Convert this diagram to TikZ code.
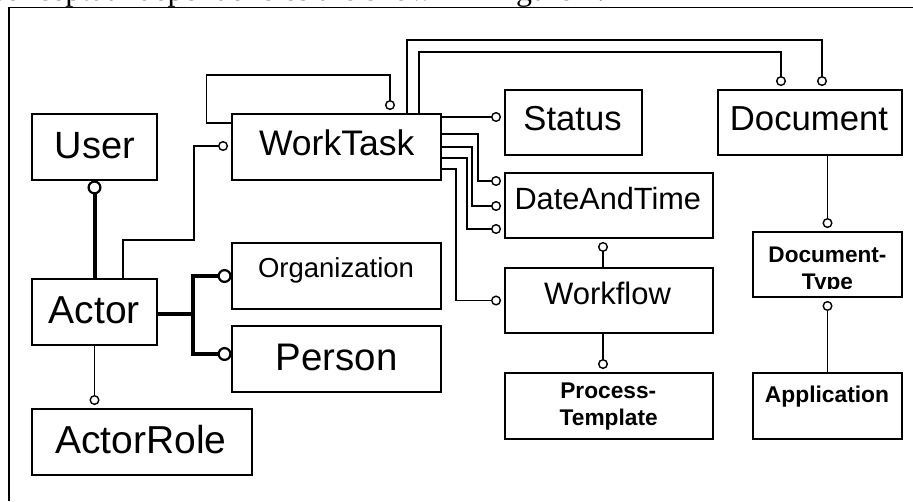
\documentclass[tikz,border=0pt]{standalone}
\usepackage{fontspec}
\setmainfont{Liberation Sans}
\newfontfamily\serifbody{Liberation Serif}
\usetikzlibrary{decorations.markings}

\tikzset{
  box/.style={draw,rectangle,line width=1.3pt,inner sep=0pt},
  lbl/.style={anchor=base,inner sep=0pt},
  % thin connector ending in a small open ring just before the target box
  conn/.style={line width=1.3pt,shorten >=8.3pt,
    postaction={decorate,decoration={markings,
      mark=at position 1 with {\draw[line width=1.4pt,fill=white] (-8.3pt,0) circle (4.3pt);}}}},
  boldlink/.style={line width=4pt},
  % heavy connector ending in a large open ring touching the target box
  boldconn/.style={line width=4pt,shorten >=6.8pt,
    postaction={decorate,decoration={markings,
      mark=at position 1 with {\draw[line width=2.2pt,fill=white] (-6.8pt,0) circle (5.9pt);}}}},
  sz/.style={font=\fontsize{#1}{#1}\selectfont},
  bsz/.style={font=\fontsize{#1}{#1}\selectfont\bfseries},
}

\begin{document}
\begin{tikzpicture}[x=1pt,y=-1pt]
\useasboundingbox (0,0) rectangle (913,501);

% running text of the page, cut by the figure frame
\begin{scope}
  \clip (0,0) rectangle (913,501);
  \node[lbl,anchor=base west] (caption) at (-9.4,0.8)
    {\serifbody\fontsize{32}{32}\selectfont conceptual dependencies are shown in Figure 4.};
\end{scope}

% figure frame
\draw[line width=1.4pt] (9,501) -- (9,7.3) -- (914,7.3);

% entity boxes
\node[box,minimum width=125pt,minimum height=66pt] (user)     at (94.5,147) {};
\node[box,minimum width=209pt,minimum height=66pt] (worktask) at (336.5,147) {};
\node[box,minimum width=137pt,minimum height=65pt] (status)   at (573.5,122.5) {};
\node[box,minimum width=184pt,minimum height=65pt] (document) at (810,122.5) {};
\node[box,minimum width=208pt,minimum height=65pt] (datetime) at (609,205.5) {};
\node[box,minimum width=208pt,minimum height=65pt] (workflow) at (609,300.5) {};
\node[box,minimum width=208pt,minimum height=66pt] (template) at (609,406) {};
\node[box,minimum width=149pt,minimum height=65pt] (doctype)  at (827.5,264.5) {};
\node[box,minimum width=149pt,minimum height=66pt] (app)      at (827.5,406) {};
\node[box,minimum width=125pt,minimum height=66pt] (actor)    at (94.5,312) {};
\node[box,minimum width=209pt,minimum height=66pt] (org)      at (336.5,276) {};
\node[box,minimum width=209pt,minimum height=66pt] (person)   at (336.5,359) {};
\node[box,minimum width=220pt,minimum height=66pt] (role)     at (142,442) {};

% labels
\node[lbl,sz=38]   (user-t)     at (95,158)      {User};
\node[lbl,sz=35.5] (worktask-t) at (336.7,155)   {WorkTask};
\node[lbl,sz=34.6] (status-t)   at (572.5,130)   {Status};
\node[lbl,sz=34.7] (document-t) at (809,130)     {Document};
\node[lbl,sz=30.7] (datetime-t) at (607.8,209)   {DateAndTime};
\node[lbl,sz=31]   (workflow-t) at (607.5,304)   {Workflow};
\node[lbl,sz=27.5] (org-t)      at (336,277)     {Organization};
\node[lbl,sz=38.4] (person-t)   at (336.8,370.7) {Person};
\node[lbl,sz=39]   (actor-t)    at (94.2,323.3)  {Actor};
\node[lbl,sz=39]   (role-t)     at (140.8,453.3) {ActorRole};
\node[lbl,bsz=22.7] (template-t1) at (608.3,398.3) {Process-};
\node[lbl,bsz=22.7] (template-t2) at (608.7,425)   {Template};
\node[lbl,bsz=22.8] (app-t)       at (827,402.7)   {Application};
\begin{scope}
  \clip (753,232) rectangle (902,288);
  \node[lbl,bsz=22.6] (doctype-t1) at (827.5,262)   {Document-};
  \node[lbl,bsz=22.6] (doctype-t2) at (827.5,289.5) {Type};
\end{scope}

% WorkTask relations
\draw[conn] ([yshift=24pt]worktask.west) -- ++(-25,0) |- (390,75)
            -- ([xshift=53.5pt]worktask.north);
\draw[conn] ([xshift=70.5pt]worktask.north) |- (822,40) -- ([xshift=12pt]document.north);
\draw[conn] ([xshift=82.5pt]worktask.north) |- (781,52) -- ([xshift=-29pt]document.north);
\draw[conn] ([yshift=30pt]worktask.east) -- ([yshift=30pt]worktask.east -| status.west);
\draw[conn] ([yshift=13pt]worktask.east)  -| (478,181) -- ([yshift=24.5pt]datetime.west);
\draw[conn] (worktask.east)               -| (472,206) -- ([yshift=-0.5pt]datetime.west);
\draw[conn] ([yshift=-11pt]worktask.east) -| (467,229) -- ([yshift=-23.5pt]datetime.west);
\draw[conn] ([yshift=-22pt]worktask.east) -| (456,300.5) -- (workflow.west);

% Actor relations
\draw[conn] ([xshift=28.5pt]actor.north) |- (194,240) |- ([yshift=1pt]worktask.west);
\draw[boldconn] (actor.north) -- (user.south);
\coordinate (fork) at (193,314);
\draw[boldlink] ([yshift=-2pt]actor.east) -- (fork);
\draw[boldconn] (fork) |- (org.west);
\draw[boldconn] (fork) |- ([yshift=5pt]person.west);
\draw[conn] (actor.south) -- (actor.south |- role.north);

% Workflow and Document relations
\draw[conn] ([xshift=-6pt]workflow.north) -- ([xshift=-6pt]datetime.south);
\draw[conn] ([xshift=-6pt]workflow.south) -- ([xshift=-6pt]template.north);
\draw[conn] (doctype.north |- document.south) -- (doctype.north);
\draw[conn] (app.north) -- (doctype.south);
\end{tikzpicture}
\end{document}
